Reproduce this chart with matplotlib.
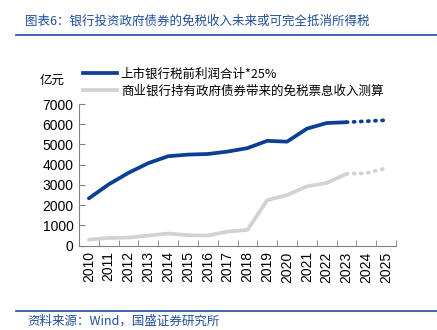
import matplotlib
matplotlib.use("Agg")
import matplotlib.pyplot as plt
from matplotlib.lines import Line2D
import numpy as np

plt.rcParams['font.family'] = ['Liberation Sans', 'Noto Sans CJK SC', 'DejaVu Sans']

years = [str(y) for y in range(2010, 2026)]
profit_tax = [2340, 3030, 3600, 4080, 4420, 4500, 4530, 4650, 4820, 5180,
              5140, 5780, 6060, 6100, 6150, 6200]
bond_exempt = [300, 380, 400, 500, 600, 520, 500, 700, 780, 2250,
               2500, 2930, 3100, 3550, 3580, 3830]
n_actual = 14  # 2010-2023 solid, rest projected

label_a = "上市银行税前利润合计*25%"
label_b = "商业银行持有政府债券带来的免税票息收入测算"
title = "图表6：银行投资政府债券的免税收入未来或可完全抵消所得税"
source = "资料来源：Wind，国盛证券研究所"

blue = "#0a3f96"
gray = "#d2d2d2"
navy = "#1f4e9c"

fig = plt.figure(figsize=(4.37, 3.3), dpi=100)
ax = fig.add_axes([79 / 437, 1 - 245.7 / 330, (396 - 79) / 437, (245.7 - 104) / 330])

x = np.arange(len(years))
dots = (0, (0.3, 1.6))
ax.plot(x[:n_actual], profit_tax[:n_actual], color=blue, lw=2.7, solid_capstyle='round')
ax.plot(x[n_actual - 1:], profit_tax[n_actual - 1:], color=blue, lw=2.7,
        linestyle=dots, dash_capstyle='round')
ax.plot(x[:n_actual], bond_exempt[:n_actual], color=gray, lw=2.7, solid_capstyle='round')
ax.plot(x[n_actual - 1:], bond_exempt[n_actual - 1:], color=gray, lw=2.7,
        linestyle=dots, dash_capstyle='round')

ax.set_xlim(-0.5, len(years) - 0.5)
ax.set_ylim(0, 7000)
ax.set_yticks(range(0, 7001, 1000))
ax.set_yticklabels([str(v) for v in range(0, 7001, 1000)], fontsize=10)
ax.set_xticks(x)
ax.set_xticklabels(years, rotation=90, fontsize=10)
ax.set_xticks(np.arange(-0.5, len(years), 1), minor=True)
ax.tick_params(axis='x', which='major', length=0, pad=4)
ax.tick_params(axis='x', which='minor', direction='in', length=4, color='#808080')
ax.tick_params(axis='y', direction='in', length=4, color='#808080', pad=4)
for s in ['top', 'right']:
    ax.spines[s].set_visible(False)
for s in ['left', 'bottom']:
    ax.spines[s].set_color('#808080')
    ax.spines[s].set_linewidth(0.8)

handles = [Line2D([], [], color=blue, lw=2.7), Line2D([], [], color=gray, lw=2.7)]
fig.legend(handles, [label_a, label_b], loc='upper left', bbox_to_anchor=(72 / 437, 1 - 56 / 330),
           frameon=False, handlelength=2.7, handletextpad=0.3,
           labelspacing=0.35, prop={'family': ['Noto Sans CJK SC', 'DejaVu Sans'], 'size': 9})
fig.text(52 / 437, 1 - 80 / 330, "亿元", ha='center', va='center', fontsize=9,
         family=['Noto Sans CJK SC'])

fig.text(25 / 437, 1 - 21 / 330, title, ha='left', va='center', fontsize=9,
         color=navy, family=['Noto Sans CJK SC', 'DejaVu Sans'])
fig.add_artist(Line2D([16 / 437, 1], [1 - 35 / 330] * 2, color=navy, lw=1.2))
fig.add_artist(Line2D([16 / 437, 1], [1 - 311 / 330] * 2, color=navy, lw=1.2))
fig.text(27 / 437, 1 - 321 / 330, source, ha='left', va='center', fontsize=9,
         color=navy, family=['Noto Sans CJK SC', 'DejaVu Sans'])

fig.savefig("out.png", dpi=100)
